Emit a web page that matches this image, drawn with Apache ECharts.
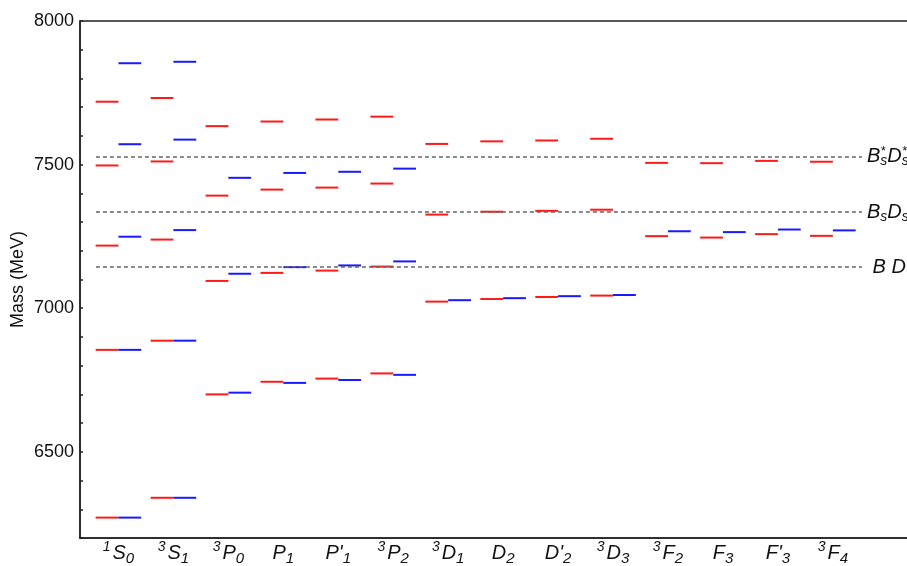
<!DOCTYPE html>
<html>
<head>
<meta charset="utf-8">
<script src="https://cdn.jsdelivr.net/npm/echarts@6/dist/echarts.min.js"></script>
<style>html,body{margin:0;padding:0;background:#fff}#c{width:907px;height:566px}</style>
</head>
<body>
<div id="c"></div>
<script>
// ---- data ----
// tick label parts: [superscript prefix, main letter, subscript]
const tickPre  = ['1','3','3','','','3','3','','','3','3','','','3'];
const tickMain = ['S','S','P','P',"P'",'P','D','D',"D'",'D','F','F',"F'",'F'];
const tickSub  = ['0','1','0','1','1','2','1','2','2','3','2','3','3','4'];

// red levels (MeV) per state
const redLevels = [
  [6271, 6855, 7218, 7497, 7719],
  [6340, 6887, 7239, 7511, 7732],
  [6700, 7095, 7392, 7634],
  [6744, 7123, 7413, 7650],
  [6755, 7131, 7420, 7657],
  [6773, 7145, 7434, 7667],
  [7023, 7326, 7572],
  [7032, 7336, 7581],
  [7039, 7339, 7584],
  [7044, 7343, 7590],
  [7251, 7506],
  [7246, 7505],
  [7258, 7513],
  [7252, 7510]
];
// blue levels (MeV) per state
const blueLevels = [
  [6271, 6855, 7249, 7571, 7853],
  [6340, 6887, 7272, 7587, 7858],
  [6706, 7120, 7454],
  [6740, 7143, 7471],
  [6750, 7149, 7475],
  [6768, 7163, 7486],
  [7028],
  [7035],
  [7042],
  [7046],
  [7268],
  [7265],
  [7274],
  [7271]
];
// thresholds
const thresholdNames = ['BsStar','Bs','B'];
const thresholdValues = [7528, 7335, 7143];

// ---- build ----
const FONT = 'Arial, "Liberation Sans", sans-serif';
const HALF = 0.415;
const X_MIN = 0.3, X_MAX = 15.95;
const DASH_START = 0.59, DASH_END = 14.53;

function flat(levels){
  const out = [];
  levels.forEach((arr, i) => arr.forEach(v => out.push([i + 1, v])));
  return out;
}

function seg(color, dir){
  return function(params, api){
    const x = api.value(0), v = api.value(1);
    const a = api.coord([dir < 0 ? x - HALF : x, v]);
    const b = api.coord([dir < 0 ? x : x + HALF, v]);
    return {
      type: 'line',
      shape: {x1: a[0], y1: a[1], x2: b[0], y2: b[1]},
      style: {stroke: color, lineWidth: 2}
    };
  };
}

const tickLabelStr = tickMain.map((m, i) =>
  (tickPre[i] ? '{sup|' + tickPre[i] + '}' : '') + '{m|' + m + '}{sub|' + tickSub[i] + '}');

const thrLabels = {
  BsStar: '{m|B}{st|*}{sb|s}{m|D}{st|*}{sb|s}',
  Bs: '{m|B}{sb|s}{m|D}{sb|s}',
  B: '{m| B D}'
};

const thrRich = {
  m: {fontFamily: FONT, fontStyle: 'italic', fontSize: 20, color: '#111', lineHeight: 24, verticalAlign: 'middle'},
  st: {fontFamily: FONT, fontStyle: 'italic', fontSize: 13, color: '#111', lineHeight: 20, verticalAlign: 'top', width: 0},
  sb: {fontFamily: FONT, fontStyle: 'italic', fontSize: 14, color: '#111', lineHeight: 14, verticalAlign: 'bottom'}
};

const markData = thresholdNames.map((n, i) => [
  {coord: [DASH_START, thresholdValues[i]], label: {formatter: thrLabels[n]}},
  {coord: [DASH_END, thresholdValues[i]]}
]);

const chart = echarts.init(document.getElementById('c'), null, {renderer: 'canvas'});
chart.setOption({
  animation: false,
  backgroundColor: '#fff',
  grid: {left: 80, top: 21, width: 860, height: 517, outerBoundsMode: 'none', containLabel: false,
         show: true, borderColor: '#222', borderWidth: 1.5, backgroundColor: 'transparent'},
  xAxis: {
    type: 'value', min: X_MIN, max: X_MAX,
    splitLine: {show: false},
    axisLine: {show: true, lineStyle: {color: '#222', width: 1.5}},
    axisTick: {show: false},
    axisLabel: {
      customValues: tickMain.map((_, i) => i + 1),
      margin: 2,
      formatter: v => tickLabelStr[Math.round(v) - 1] || '',
      rich: {
        m: {fontFamily: FONT, fontStyle: 'italic', fontSize: 20, color: '#111', lineHeight: 26, verticalAlign: 'middle'},
        sup: {fontFamily: FONT, fontStyle: 'italic', fontSize: 14, color: '#111', lineHeight: 17, verticalAlign: 'top', padding: [0, 2, 0, 0]},
        sub: {fontFamily: FONT, fontStyle: 'italic', fontSize: 15, color: '#111', lineHeight: 18, verticalAlign: 'bottom'}
      }
    }
  },
  yAxis: {
    type: 'value', min: 6200, max: 8000, interval: 100,
    name: 'Mass (MeV)', nameLocation: 'middle', nameGap: 53, nameRotate: 90, nameMoveOverlap: false,
    nameTextStyle: {fontFamily: FONT, fontSize: 18, color: '#111'},
    splitLine: {show: false},
    axisLine: {show: true, lineStyle: {color: '#222', width: 1.5}},
    axisTick: {show: true, inside: true, length: 3, lineStyle: {color: '#222', width: 1.5}},
    axisLabel: {
      margin: 6, fontFamily: FONT, fontSize: 18, color: '#111',
      formatter: v => (v % 500 === 0 ? String(v) : '')
    }
  },
  series: [
    {
      type: 'custom', name: 'red', renderItem: seg('#ff1a1a', -1), data: flat(redLevels), z: 3,
      markLine: {
        silent: true, symbol: 'none', animation: false,
        lineStyle: {color: '#666', type: [4, 3], width: 1.5},
        label: {show: true, position: 'end', distance: 5, rich: thrRich},
        data: markData
      }
    },
    {type: 'custom', name: 'blue', renderItem: seg('#1a1aff', 1), data: flat(blueLevels), z: 3}
  ]
});
</script>
</body>
</html>
